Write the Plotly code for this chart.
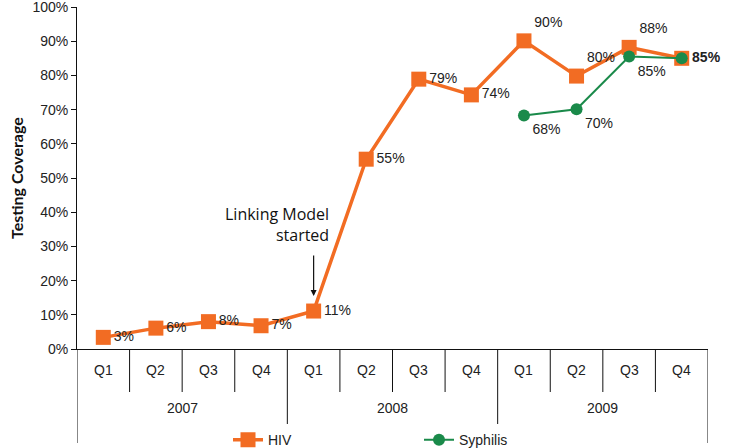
import plotly.graph_objects as go

years = ["2007", "2008", "2009"]
quarter_names = ["Q1", "Q2", "Q3", "Q4"]
periods = [f"{y} {q}" for y in years for q in quarter_names]
hiv = [3.4, 6.1, 8.0, 6.8, 11.1, 55.5, 78.9, 74.3, 90.1, 79.8, 88.2, 85.0]
hiv_labels = ["3%", "6%", "8%", "7%", "11%", "55%", "79%", "74%", "90%", "80%", "88%", "<b>85%</b>"]
syph = [None] * 8 + [68.3, 70.1, 85.5, 85.0]
syph_labels = [""] * 8 + ["68%", "70%", "85%", ""]
y_ticks = list(range(0, 101, 10))
y_tick_text = [f"{v}%" for v in y_ticks]

hiv_pos = ["middle right"] * 8 + ["top right", "top right", "top right", "middle right"]
syph_pos = ["bottom right"] * 12

ORANGE = "#F26C23"
GREEN = "#1A8A4A"
FONT = "Liberation Sans, Arial, sans-serif"
CAL = "Open Sans, Lato, sans-serif"

# plot geometry (paper units)
PH = 342.0
q_line = -43 / PH
y_line = -94 / PH
q_lab = -21 / PH
y_lab = -59 / PH

fig = go.Figure()
fig.add_trace(go.Scatter(
    x=periods, y=hiv, name="HIV", mode="lines+markers+text",
    text=hiv_labels, textposition=hiv_pos,
    textfont=dict(family=FONT, size=14, color="#222"),
    line=dict(color=ORANGE, width=3.5),
    marker=dict(symbol="square", size=15, color=ORANGE),
    cliponaxis=False,
))
fig.add_trace(go.Scatter(
    x=periods, y=syph, name="Syphilis", mode="lines+markers+text",
    text=syph_labels, textposition=syph_pos,
    textfont=dict(family=FONT, size=14, color="#222"),
    line=dict(color=GREEN, width=2),
    marker=dict(symbol="circle", size=12, color=GREEN),
    cliponaxis=False,
))

# category axis: quarter labels, year labels and dividers
for i, p in enumerate(periods):
    fig.add_annotation(x=p, y=q_lab, xref="x", yref="paper", text=quarter_names[i % 4],
                       showarrow=False, yanchor="middle",
                       font=dict(family=FONT, size=14, color="#222"))
for i in range(len(periods) + 1):
    is_year = (i % 4 == 0)
    fig.add_shape(type="line", xref="x", yref="paper", x0=i - 0.5, x1=i - 0.5,
                  y0=0, y1=y_line if is_year else q_line,
                  line=dict(color="#111", width=1))
for j, yr in enumerate(years):
    fig.add_annotation(x=j * 4 + 1.5, y=y_lab, xref="x", yref="paper", text=yr,
                       showarrow=False, yanchor="middle",
                       font=dict(family=FONT, size=14, color="#222"))

# y-axis title
fig.add_annotation(x=-61 / 631, y=0.5, xref="paper", yref="paper", text="<b>Testing Coverage</b>",
                   textangle=-90, showarrow=False, xanchor="center", yanchor="middle",
                   font=dict(family="Lato, Open Sans, sans-serif", size=16, color="#111"))

# Linking model annotation
fig.add_annotation(x=4, y=15.5, ax=0, ay=-50, text=" ", showarrow=True,
                   arrowhead=2, arrowsize=1, arrowwidth=1.2, arrowcolor="#111",
                   xref="x", yref="y")
fig.add_annotation(x=4, y=36.5, xshift=16, text="Linking Model<br>started", showarrow=False,
                   xanchor="right", yanchor="middle", align="right", borderpad=0,
                   font=dict(family=CAL, size=16, color="#111"))

fig.update_layout(
    width=730, height=448,
    margin=dict(l=77, r=22, t=7, b=99, autoexpand=False),
    paper_bgcolor="white", plot_bgcolor="white",
    font=dict(family=FONT, size=14, color="#222"),
    showlegend=True,
    legend=dict(orientation="h", x=(228 - 77) / 631, xanchor="left", y=-0.22, yanchor="top",
                entrywidth=146, entrywidthmode="pixels",
                font=dict(family=FONT, size=14, color="#222")),
    xaxis=dict(type="category", range=[-0.5, 11.5], showline=True, linecolor="#111", linewidth=1,
               showticklabels=False, ticks="", showgrid=False, zeroline=False, automargin=False),
    yaxis=dict(range=[0, 100], tickmode="array", tickvals=y_ticks, ticktext=y_tick_text,
               showline=True, linecolor="#111", linewidth=1, ticks="outside", ticklen=5,
               tickcolor="#111", showgrid=False, zeroline=False, automargin=False,
               ticklabeloverflow="allow",
               tickfont=dict(family=FONT, size=14, color="#222")),
)

fig.write_html("out.html", config={"displayModeBar": False},
               post_script="document.body.style.margin='0';document.body.style.overflow='hidden';")
